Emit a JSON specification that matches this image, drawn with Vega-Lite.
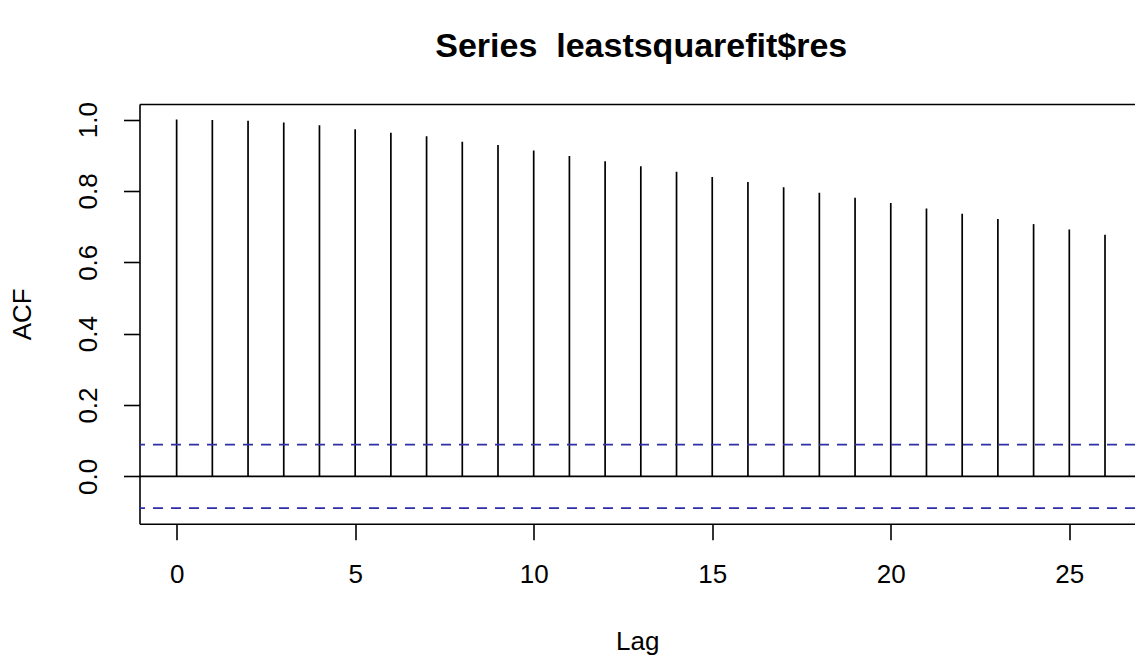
{
  "$schema": "https://vega.github.io/schema/vega-lite/v6.json",
  "width": 995.5,
  "height": 419.7,
  "autosize": "none",
  "padding": {"left": 139.5, "top": 104, "right": 0, "bottom": 133.3},
  "background": "white",
  "config": {
    "view": {"stroke": null},
    "font": "Liberation Sans",
    "axis": {
      "domainColor": "#000000",
      "domainWidth": 1.6,
      "tickColor": "#000000",
      "tickWidth": 1.6,
      "labelColor": "#000000",
      "titleColor": "#000000",
      "labelFont": "Liberation Sans",
      "titleFont": "Liberation Sans",
      "labelFontSize": 26,
      "titleFontSize": 26,
      "titleFontWeight": "normal",
      "grid": false
    }
  },
  "title": {
    "text": "Series\u00a0 leastsquarefit$res",
    "font": "Liberation Sans",
    "fontSize": 34,
    "fontWeight": "bold",
    "color": "#000000",
    "anchor": "middle",
    "dx": 4,
    "offset": 37
  },
  "datasets": {
    "acf": [
      {"lag": 0, "acf": 1.0},
      {"lag": 1, "acf": 0.999},
      {"lag": 2, "acf": 0.997},
      {"lag": 3, "acf": 0.992},
      {"lag": 4, "acf": 0.984},
      {"lag": 5, "acf": 0.973},
      {"lag": 6, "acf": 0.963},
      {"lag": 7, "acf": 0.953},
      {"lag": 8, "acf": 0.938},
      {"lag": 9, "acf": 0.929},
      {"lag": 10, "acf": 0.913},
      {"lag": 11, "acf": 0.898},
      {"lag": 12, "acf": 0.883},
      {"lag": 13, "acf": 0.869},
      {"lag": 14, "acf": 0.854},
      {"lag": 15, "acf": 0.839},
      {"lag": 16, "acf": 0.825},
      {"lag": 17, "acf": 0.81},
      {"lag": 18, "acf": 0.795},
      {"lag": 19, "acf": 0.781},
      {"lag": 20, "acf": 0.766},
      {"lag": 21, "acf": 0.751},
      {"lag": 22, "acf": 0.736},
      {"lag": 23, "acf": 0.721},
      {"lag": 24, "acf": 0.707},
      {"lag": 25, "acf": 0.692},
      {"lag": 26, "acf": 0.677}
    ],
    "bounds": [
      {"level": 0.0889},
      {"level": -0.0889}
    ]
  },
  "resolve": {"axis": {"x": "independent"}},
  "layer": [
    {
      "data": {"name": "acf"},
      "mark": {"type": "rule", "color": "#000000", "strokeWidth": 1.7},
      "encoding": {
        "x": {
          "field": "lag",
          "type": "quantitative",
          "scale": {"domain": [-1.04, 26.84], "nice": false, "zero": false},
          "axis": {
            "orient": "bottom",
            "values": [0, 5, 10, 15, 20, 25],
            "tickSize": 16,
            "labelPadding": 22,
            "labelBaseline": "top",
            "labelFlush": false,
            "labelOverlap": false,
            "title": "Lag",
            "titleBaseline": "alphabetic",
            "titleY": 126
          }
        },
        "y": {
          "field": "acf",
          "type": "quantitative",
          "scale": {"domain": [-0.1326, 1.0436], "nice": false, "zero": false},
          "axis": {
            "orient": "left",
            "values": [0, 0.2, 0.4, 0.6, 0.8, 1.0],
            "format": ".1f",
            "tickSize": 16,
            "labelAngle": -90,
            "labelAlign": "center",
            "labelBaseline": "bottom",
            "labelPadding": 22,
            "labelFlush": false,
            "labelOverlap": false,
            "title": "ACF",
            "titleAngle": -90,
            "titleAlign": "center",
            "titleBaseline": "bottom",
            "titleX": -104
          }
        },
        "y2": {"datum": 0}
      }
    },
    {
      "data": {"name": "acf"},
      "mark": {"type": "tick", "opacity": 0},
      "encoding": {
        "x": {
          "field": "lag",
          "type": "quantitative",
          "axis": {
            "orient": "top",
            "labels": false,
            "ticks": false,
            "title": null,
            "domain": true
          }
        }
      }
    },
    {
      "data": {"values": [{"level": 0}]},
      "mark": {"type": "rule", "color": "#000000", "strokeWidth": 1.7},
      "encoding": {
        "y": {"field": "level", "type": "quantitative"}
      }
    },
    {
      "data": {"name": "bounds"},
      "mark": {"type": "rule", "color": "#2e2ea8", "strokeWidth": 1.7, "strokeDash": [10, 8]},
      "encoding": {
        "y": {"field": "level", "type": "quantitative"}
      }
    }
  ]
}
